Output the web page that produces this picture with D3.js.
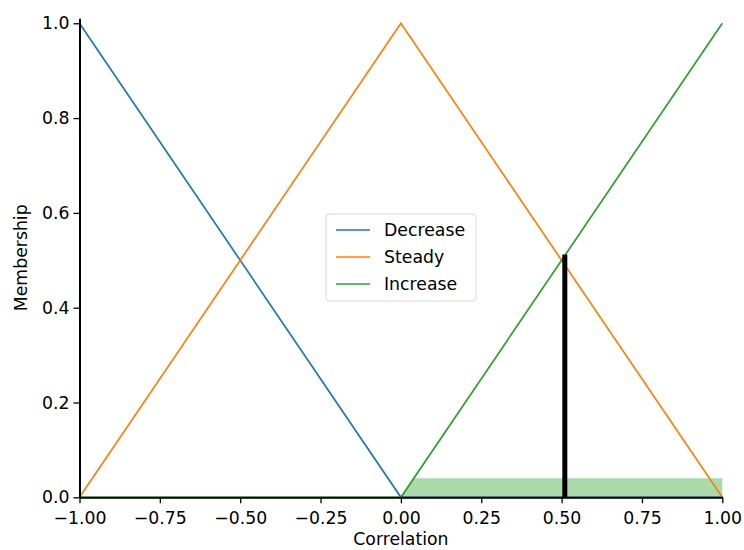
<!DOCTYPE html>
<html><head><meta charset="utf-8">
<script src="https://cdn.jsdelivr.net/npm/d3@7"></script>
<style>body{margin:0;background:#fff}svg{display:block}text{font-family:"DejaVu Sans",sans-serif}</style>
</head><body>
<script>
const seriesNames = ["Decrease", "Steady", "Increase"];
const seriesColors = ["#1f77b4", "#ff7f0e", "#2ca02c"];
const decrease = [[-1, 1], [0, 0], [1, 0]];
const steady = [[-1, 0], [0, 1], [1, 0]];
const increase = [[-1, 0], [0, 0], [1, 1]];
const activation = [[0, 0], [0.04, 0.04], [1, 0.04], [1, 0]];
const crispValue = 0.51;
const crispMembership = 0.512;
const xTicks = [-1, -0.75, -0.5, -0.25, 0, 0.25, 0.5, 0.75, 1];
const yTicks = [0, 0.2, 0.4, 0.6, 0.8, 1.0];

const FS = 17.3;
const W = 744, H = 550;
const svg = d3.select("body").append("svg").attr("width", W).attr("height", H);
const x = d3.scaleLinear().domain([-1, 1]).range([79.5, 722.3]);
const y = d3.scaleLinear().domain([0, 1.0105]).range([497.3, 18.3]);

// activation fill
svg.append("path").datum(activation)
  .attr("d", d3.line().x(d => x(d[0])).y(d => y(d[1])))
  .attr("fill", "#2ca02c").attr("fill-opacity", 0.4).attr("stroke", "none");

const series = [decrease, steady, increase];
const line = d3.line().x(d => x(d[0])).y(d => y(d[1]));
series.forEach((s, i) => {
  svg.append("path").datum(s).attr("d", line).attr("fill", "none")
    .attr("stroke", seriesColors[i]).attr("stroke-width", 1.7);
});

// crisp value line
svg.append("line").attr("x1", x(crispValue)).attr("x2", x(crispValue))
  .attr("y1", y(0)).attr("y2", y(crispMembership))
  .attr("stroke", "#000").attr("stroke-width", 5);

// axes
const xAxis = svg.append("g").attr("transform", `translate(0,${y(0)})`)
  .call(d3.axisBottom(x).tickValues(xTicks).tickFormat(d3.format(".2f")).tickSize(6).tickPadding(8).tickSizeOuter(0));
const yAxis = svg.append("g").attr("transform", `translate(${x(-1)},0)`)
  .call(d3.axisLeft(y).tickValues(yTicks).tickFormat(d3.format(".1f")).tickSize(6).tickPadding(4).tickSizeOuter(0));
[xAxis, yAxis].forEach(a => {
  a.selectAll("text").attr("font-size", FS).attr("fill", "#000").attr("font-family", '"DejaVu Sans",sans-serif');
  a.selectAll("line").attr("stroke", "#000").attr("stroke-width", 1.3);
  a.select(".domain").attr("stroke", "#000").attr("stroke-width", 2);
});
xAxis.selectAll("text").text(d => d3.format(".2f")(d).replace("-", "\u2212"));

svg.append("text").attr("x", (x(-1) + x(1)) / 2).attr("y", 545).attr("text-anchor", "middle")
  .attr("font-size", FS).text("Correlation");
svg.append("text").attr("transform", `translate(27,${(y(0) + y(1.0105)) / 2}) rotate(-90)`)
  .attr("text-anchor", "middle").attr("font-size", FS).text("Membership");

// legend
const lg = svg.append("g").attr("transform", "translate(326,214)");
lg.append("rect").attr("x", 0).attr("y", 0).attr("width", 150).attr("height", 87).attr("rx", 3)
  .attr("fill", "#fff").attr("fill-opacity", 0.8).attr("stroke", "#d9d9d9").attr("stroke-width", 1);
seriesNames.forEach((n, i) => {
  const yy = 16 + i * 27;
  lg.append("line").attr("x1", 10).attr("x2", 44).attr("y1", yy).attr("y2", yy)
    .attr("stroke", seriesColors[i]).attr("stroke-width", 1.7);
  lg.append("text").attr("x", 58).attr("y", yy).attr("dy", "0.35em").attr("font-size", FS).text(n);
});
</script>
</body></html>
